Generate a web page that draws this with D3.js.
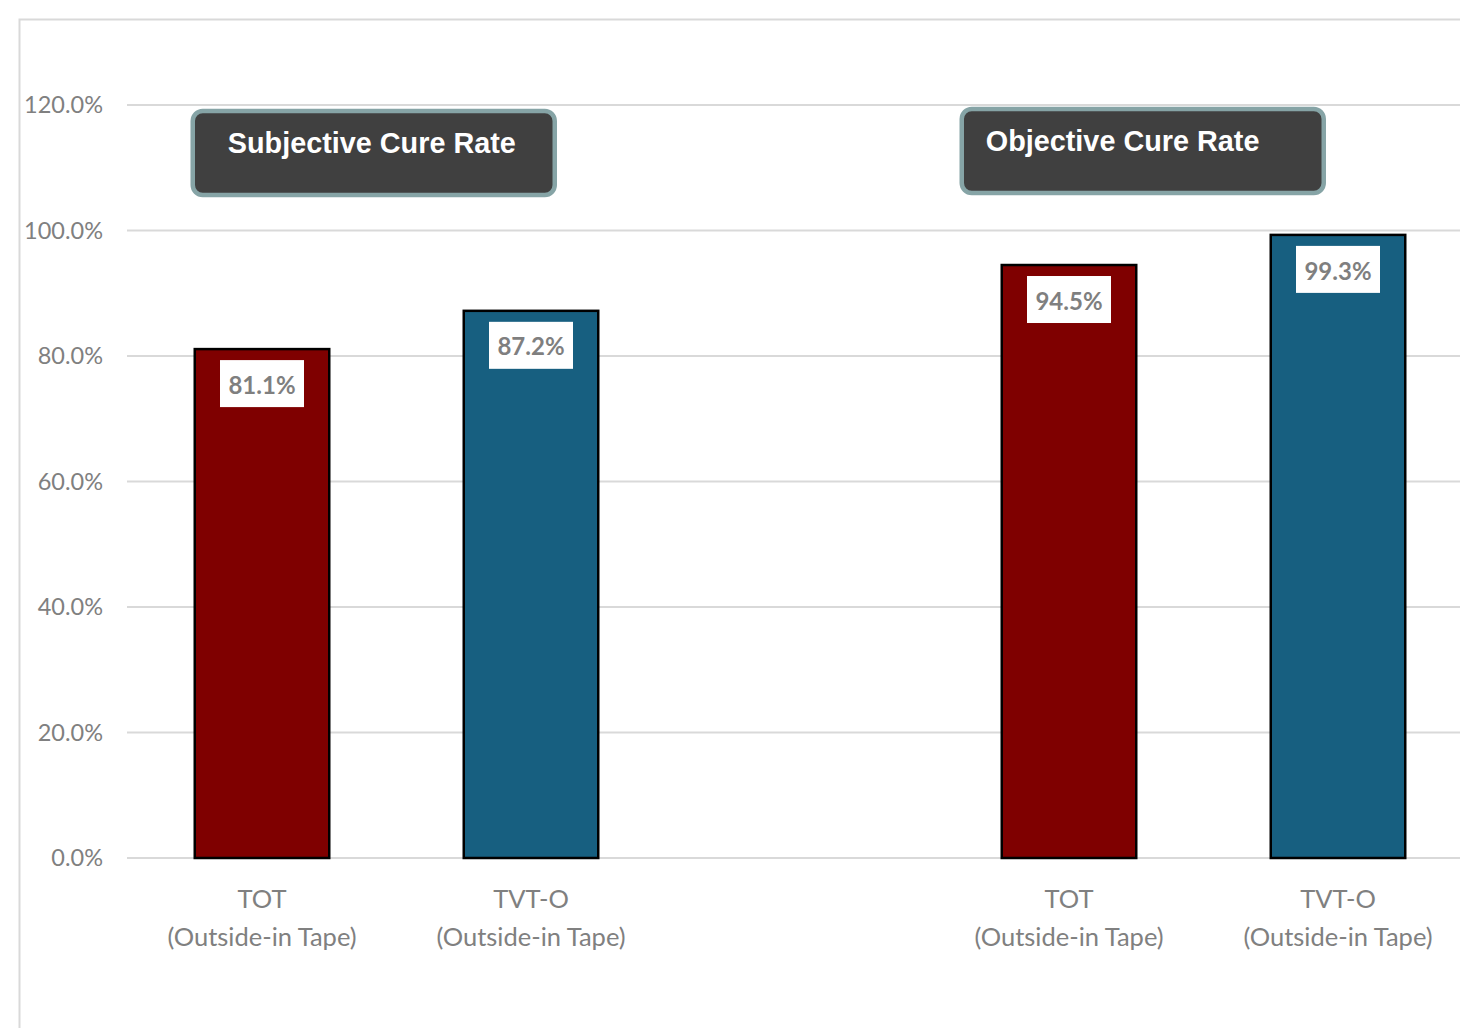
<!DOCTYPE html>
<html>
<head>
<meta charset="utf-8">
<script src="https://cdn.jsdelivr.net/npm/d3@7"></script>
<style>
  html, body { margin: 0; padding: 0; background: #fff; }
  #chart { width: 1460px; height: 1028px; }
</style>
</head>
<body>
<div id="chart"></div>
<script>
// ---------------------------------------------------------------------------
// Cure rate bars — TOT vs TVT-O, subjective and objective groups
// ---------------------------------------------------------------------------

const groups = ['Subjective Cure Rate', 'Objective Cure Rate'];
const devices = ['TOT', 'TVT-O'];
const deviceSubtitle = '(Outside-in Tape)';
const subjectiveValues = [81.1, 87.2];
const objectiveValues = [94.5, 99.3];
const yTicks = [0, 20, 40, 60, 80, 100, 120];
const deviceColors = ['#7f0000', '#175f80'];

const width = 1460;
const height = 1028;

const svg = d3.select('#chart')
  .append('svg')
  .attr('width', width)
  .attr('height', height)
  .style('display', 'block');

// outer chart frame (left + top edges visible)
svg.append('path')
  .attr('d', `M19.5,${height} V19.5 H${width}`)
  .attr('fill', 'none')
  .attr('stroke', '#d9d9d9')
  .attr('stroke-width', 2);

// slots: two devices per group, an empty slot between groups
const slots = [];
groups.forEach((g, gi) => {
  devices.forEach((dev, di) => {
    slots.push({ key: `${g}|${dev}`, group: g, device: dev, di,
      value: gi === 0 ? subjectiveValues[di] : objectiveValues[di] });
  });
  if (gi === 0) slots.push({ key: 'gap', gap: true });
});
const bars = slots.filter((s) => !s.gap);

const x = d3.scaleBand()
  .domain(slots.map((s) => s.key))
  .range([127.5, 1472.5])
  .paddingInner(0.5)
  .paddingOuter(0.25);

const y = d3.scaleLinear().domain([0, 120]).range([858, 105]);

// gridlines
svg.append('g')
  .selectAll('line')
  .data(yTicks)
  .join('line')
  .attr('x1', 127)
  .attr('x2', width)
  .attr('y1', (d) => y(d))
  .attr('y2', (d) => y(d))
  .attr('stroke', '#d9d9d9')
  .attr('stroke-width', 2);

// y tick labels
svg.append('g')
  .selectAll('text')
  .data(yTicks)
  .join('text')
  .attr('x', 103)
  .attr('y', (d) => y(d))
  .attr('dy', '0.36em')
  .attr('text-anchor', 'end')
  .style('font', '23.5px Lato, "Open Sans", sans-serif')
  .attr('fill', '#808080')
  .text((d) => d3.format('.1f')(d) + '%');

// bars
svg.append('g')
  .selectAll('rect')
  .data(bars)
  .join('rect')
  .attr('x', (d) => x(d.key))
  .attr('y', (d) => y(d.value))
  .attr('width', x.bandwidth())
  .attr('height', (d) => y(0) - y(d.value))
  .attr('fill', (d) => deviceColors[d.di])
  .attr('stroke', '#000')
  .attr('stroke-width', 2.5);

// value labels in white boxes
const labels = svg.append('g')
  .selectAll('g')
  .data(bars)
  .join('g')
  .attr('transform', (d) => `translate(${x(d.key) + x.bandwidth() / 2},${y(d.value) + 10})`);

labels.append('rect')
  .attr('x', -42)
  .attr('y', 1)
  .attr('width', 84)
  .attr('height', 47)
  .attr('fill', '#fff');

labels.append('text')
  .attr('y', 26)
  .attr('dy', '0.36em')
  .attr('text-anchor', 'middle')
  .style('font', 'bold 24px Lato, "Open Sans", sans-serif')
  .attr('fill', '#7f7f7f')
  .text((d) => d.value.toFixed(1) + '%');

// category labels
const cats = svg.append('g')
  .selectAll('text')
  .data(bars)
  .join('text')
  .attr('text-anchor', 'middle')
  .style('font', '25.5px Lato, "Open Sans", sans-serif')
  .attr('fill', '#808080');

cats.append('tspan')
  .attr('x', (d) => x(d.key) + x.bandwidth() / 2)
  .attr('y', 908)
  .text((d) => d.device);

cats.append('tspan')
  .attr('x', (d) => x(d.key) + x.bandwidth() / 2)
  .attr('y', 946)
  .text(deviceSubtitle);

// group title boxes
const titleBoxes = [
  { text: groups[0], x: x(`${groups[0]}|TOT`) - 2, y: 111, textDx: 35, textY: 153 },
  { text: groups[1], x: x(`${groups[1]}|TOT`) - 40, y: 109, textDx: 24, textY: 151 },
];

const tb = svg.append('g')
  .selectAll('g')
  .data(titleBoxes)
  .join('g')
  .attr('transform', (d) => `translate(${d.x},${d.y})`);

tb.append('rect')
  .attr('width', 362)
  .attr('height', 84)
  .attr('rx', 10)
  .attr('fill', '#404040')
  .attr('stroke', '#86a4a6')
  .attr('stroke-width', 4.5);

tb.append('text')
  .attr('x', (d) => d.textDx)
  .attr('y', (d) => d.textY - d.y)
  .style('font', 'bold 28.8px "Liberation Sans", Arial, sans-serif')
  .attr('fill', '#fff')
  .text((d) => d.text);
</script>
</body>
</html>
